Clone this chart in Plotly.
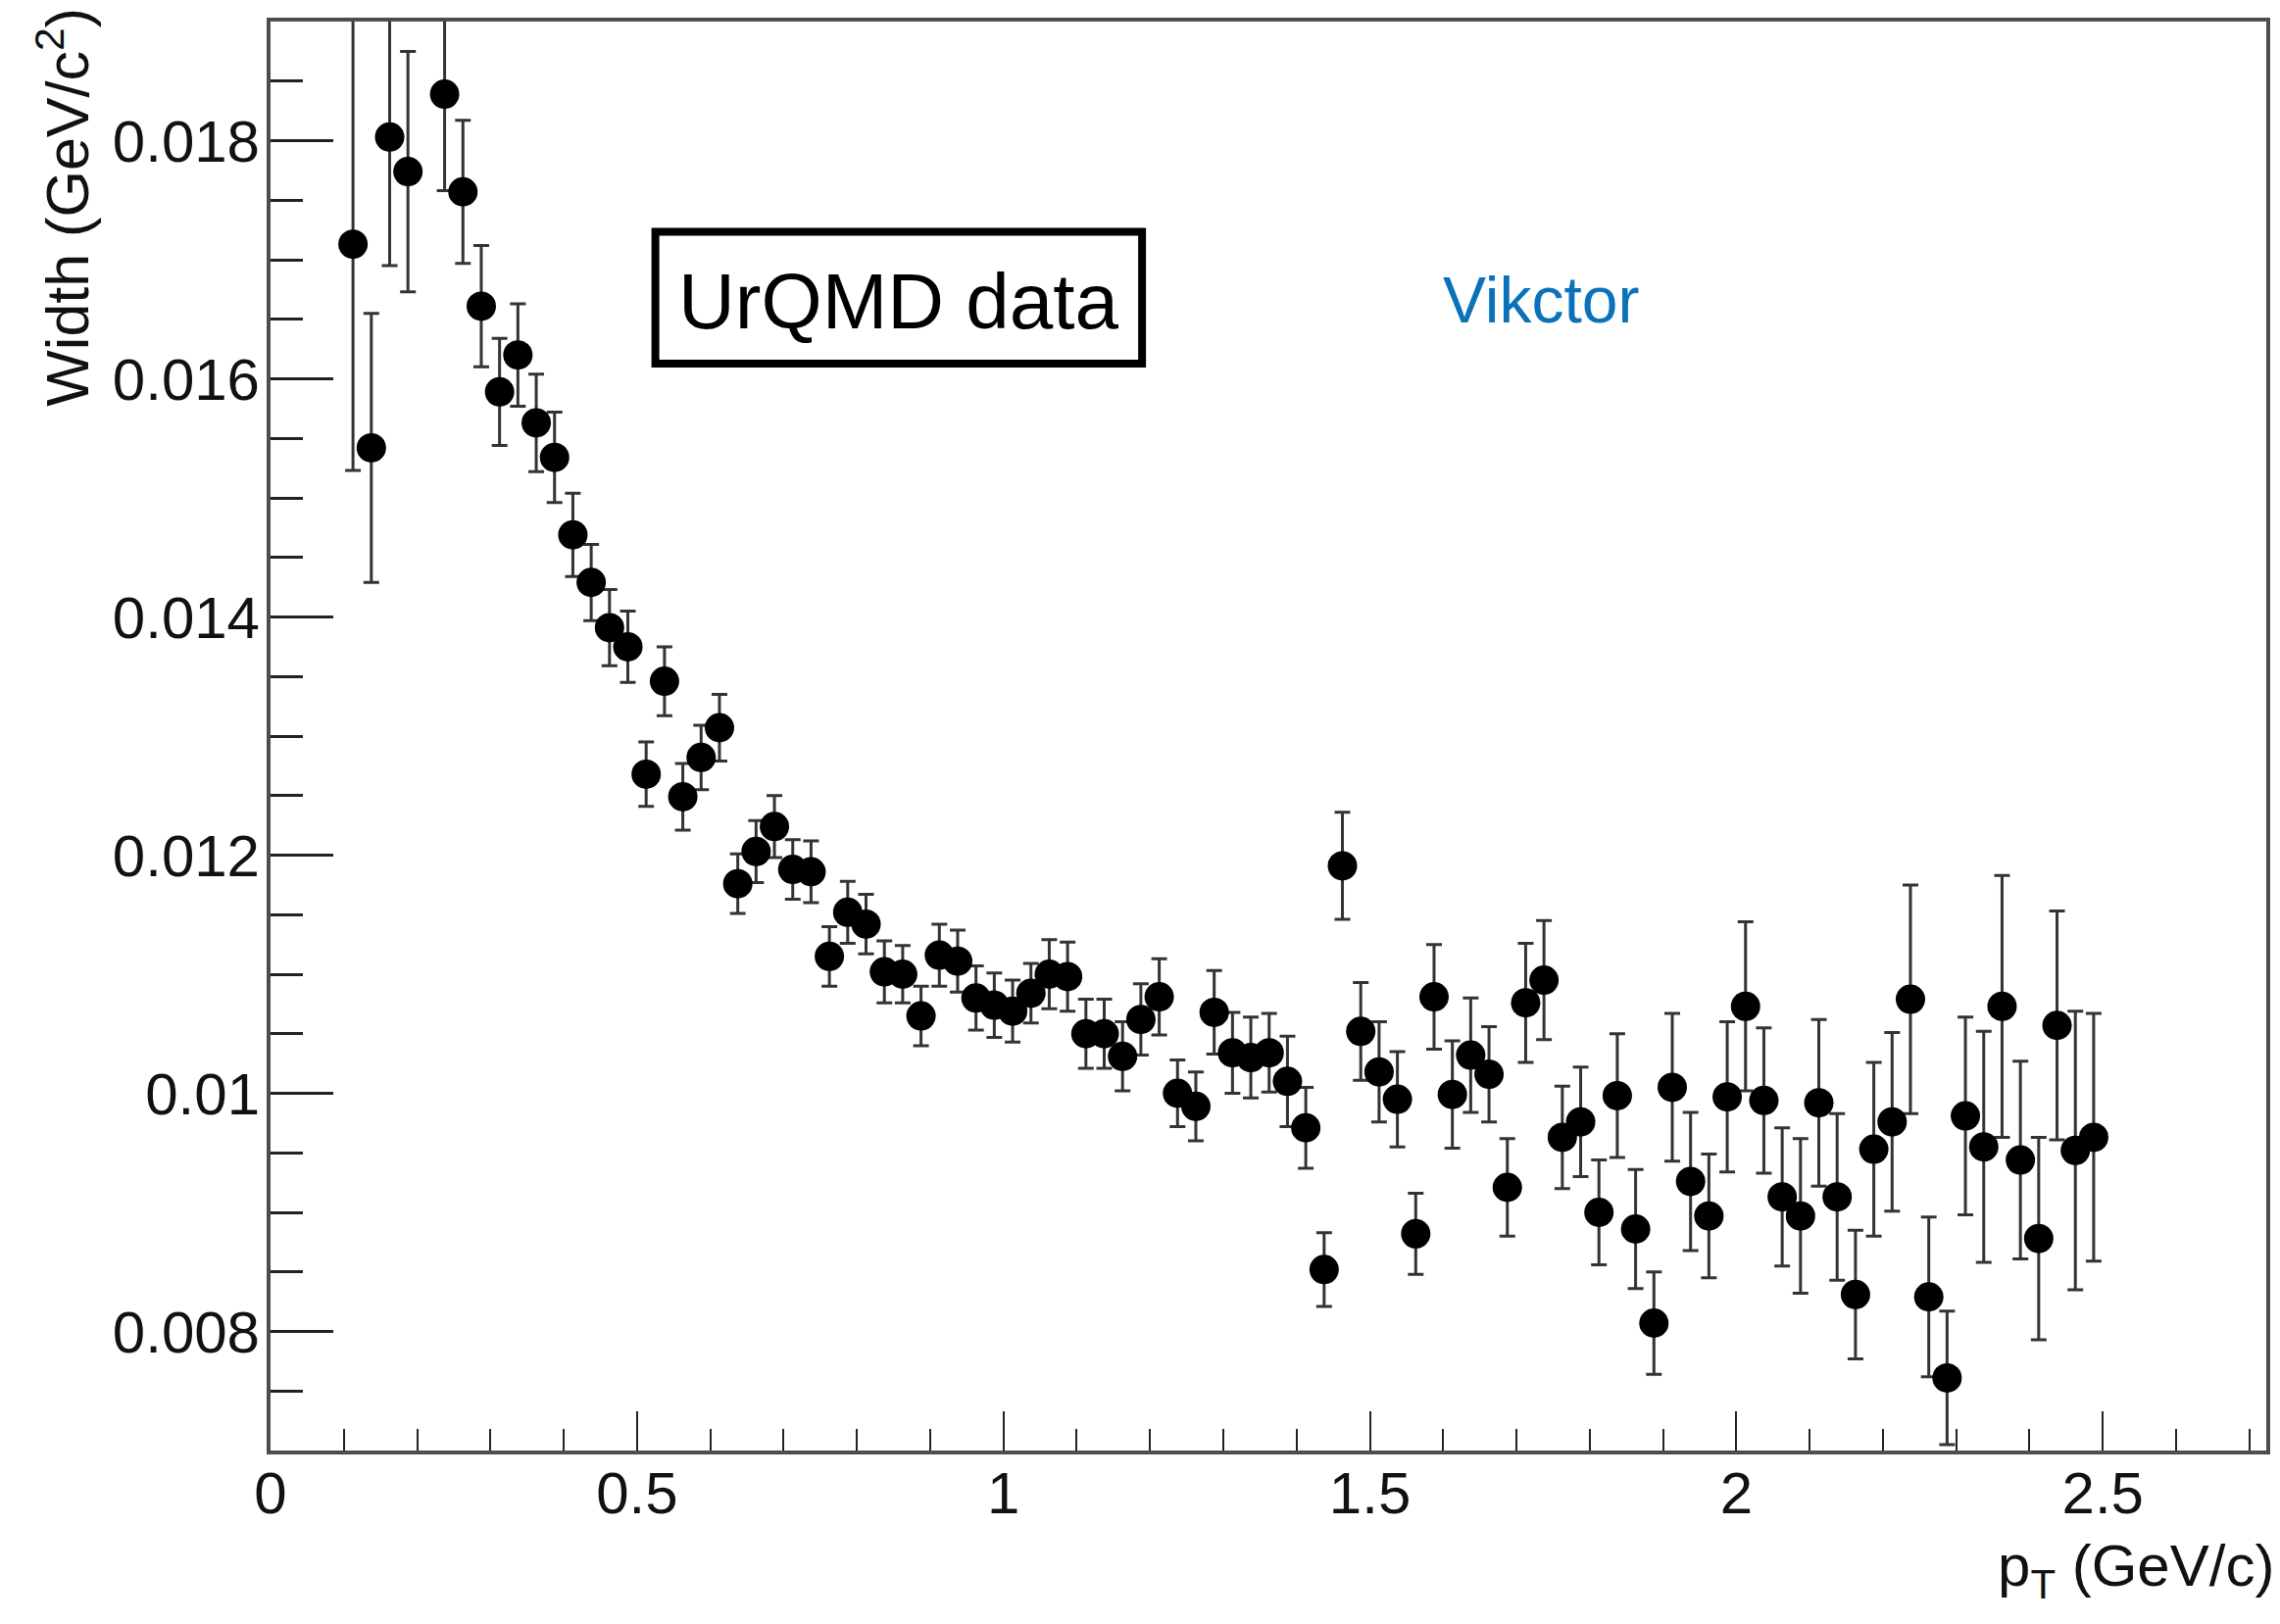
import plotly.graph_objects as go

# bin centres in pT (GeV/c); the 0.2125 bin has no point in the original
pt = [
    0.1125, 0.1375, 0.1625, 0.1875, 0.2375, 0.2625, 0.2875, 0.3125, 0.3375, 0.3625,
    0.3875, 0.4125, 0.4375, 0.4625, 0.4875,
    0.5125, 0.5375, 0.5625, 0.5875, 0.6125, 0.6375, 0.6625, 0.6875, 0.7125, 0.7375,
    0.7625, 0.7875, 0.8125, 0.8375, 0.8625, 0.8875, 0.9125, 0.9375, 0.9625, 0.9875,
    1.0125, 1.0375, 1.0625, 1.0875, 1.1125, 1.1375, 1.1625, 1.1875, 1.2125, 1.2375,
    1.2625, 1.2875, 1.3125, 1.3375, 1.3625, 1.3875, 1.4125, 1.4375, 1.4625, 1.4875,
    1.5125, 1.5375, 1.5625, 1.5875, 1.6125, 1.6375, 1.6625, 1.6875, 1.7125, 1.7375,
    1.7625, 1.7875, 1.8125, 1.8375, 1.8625, 1.8875, 1.9125, 1.9375, 1.9625, 1.9875,
    2.0125, 2.0375, 2.0625, 2.0875, 2.1125, 2.1375, 2.1625, 2.1875, 2.2125, 2.2375,
    2.2625, 2.2875, 2.3125, 2.3375, 2.3625, 2.3875, 2.4125, 2.4375, 2.4625, 2.4875,
]

width = [
    0.01713, 0.01542, 0.01803, 0.01774, 0.01839, 0.01757, 0.01661, 0.01589, 0.01620, 0.01563,
    0.01534, 0.01469, 0.01429, 0.01391, 0.01375,
    0.01268, 0.01346, 0.01249, 0.01282, 0.01307, 0.01176, 0.01203, 0.01224, 0.01188, 0.01186,
    0.01115, 0.01152, 0.01142, 0.01102, 0.01100, 0.01065, 0.01116, 0.01111, 0.01080, 0.01074,
    0.01069, 0.01084, 0.01100, 0.01098, 0.01050, 0.01050, 0.01031, 0.01062, 0.01081, 0.01000,
    0.00989, 0.01068, 0.01034, 0.01030, 0.01034, 0.01010, 0.00971, 0.00852, 0.01191, 0.01052,
    0.01018, 0.00995, 0.00882, 0.01081, 0.00999, 0.01032, 0.01016, 0.00921, 0.01076, 0.01095,
    0.00963, 0.00976, 0.00900, 0.00998, 0.00886, 0.00807, 0.01005, 0.00926, 0.00897, 0.00997,
    0.01073, 0.00994, 0.00913, 0.00897, 0.00992, 0.00913, 0.00831, 0.00953, 0.00976, 0.01079,
    0.00829, 0.00761, 0.00981, 0.00955, 0.01073, 0.00944, 0.00878, 0.01057, 0.00952, 0.00963,
]

width_err = [
    0.00190, 0.00113, 0.00108, 0.00101, 0.00081, 0.00060, 0.00051, 0.00045, 0.00043, 0.00041,
    0.00038, 0.00035, 0.00032, 0.00032, 0.00030,
    0.00027, 0.00029, 0.00028, 0.00027, 0.00028, 0.00025, 0.00026, 0.00026, 0.00025, 0.00026,
    0.00025, 0.00026, 0.00025, 0.00026, 0.00024, 0.00025, 0.00026, 0.00026, 0.00027, 0.00027,
    0.00026, 0.00025, 0.00029, 0.00029, 0.00029, 0.00029, 0.00029, 0.00030, 0.00032, 0.00028,
    0.00029, 0.00035, 0.00034, 0.00034, 0.00033, 0.00038, 0.00034, 0.00031, 0.00045, 0.00041,
    0.00042, 0.00040, 0.00034, 0.00044, 0.00045, 0.00048, 0.00040, 0.00041, 0.00050, 0.00050,
    0.00043, 0.00046, 0.00044, 0.00052, 0.00050, 0.00043, 0.00062, 0.00058, 0.00052, 0.00063,
    0.00071, 0.00061, 0.00058, 0.00065, 0.00070, 0.00070, 0.00054, 0.00073, 0.00075, 0.00096,
    0.00067, 0.00056, 0.00083, 0.00097, 0.00110, 0.00083, 0.00085, 0.00096, 0.00117, 0.00104,
]

y_tickvals = [0.008, 0.010, 0.012, 0.014, 0.016, 0.018]
y_ticktext = ["0.008", "0.01", "0.012", "0.014", "0.016", "0.018"]
x_tickvals = [0, 0.5, 1, 1.5, 2, 2.5]
x_ticktext = ["0", "0.5", "1", "1.5", "2", "2.5"]

# the page body adds an 8px margin, so the figure is made that much smaller
PAGE = 8
W, H = 2326 - PAGE, 1657 - PAGE
# plot frame in page pixels
L, R, T, B = 276, 2314, 18, 1480
FONT = "Liberation Sans, Arial, Helvetica, sans-serif"


def px(x):
    return (x - L) / (R - L)


def py(y):
    return (B - y) / (B - T)


fig = go.Figure()
fig.add_trace(go.Scatter(
    x=pt, y=width,
    mode="markers",
    marker=dict(symbol="circle", size=30, color="black"),
    error_y=dict(type="data", array=width_err, visible=True,
                 color="#333333", thickness=3, width=8),
    showlegend=False,
))

axis_common = dict(
    showgrid=False, zeroline=False,
    showline=True, linecolor="#4d4d4d", linewidth=4, mirror=True,
    ticks="inside", tickcolor="#222222",
    tickfont=dict(family=FONT, size=60, color="#111111"),
    tickmode="array",
)

fig.update_xaxes(
    range=[0, 2.723], tickvals=x_tickvals, ticktext=x_ticktext,
    ticklen=40, tickwidth=2, ticklabelstandoff=-12,
    minor=dict(ticks="inside", tick0=0, dtick=0.1, ticklen=22, tickwidth=2, tickcolor="#222222"),
    **axis_common,
)
fig.update_yaxes(
    range=[0.007, 0.019], tickvals=y_tickvals, ticktext=y_ticktext,
    ticklen=64, tickwidth=3, ticklabelstandoff=-5,
    minor=dict(ticks="inside", tick0=0, dtick=0.0005, ticklen=33, tickwidth=3, tickcolor="#222222"),
    **axis_common,
)

# ROOT-style box around the model label
fig.add_shape(type="rect", xref="paper", yref="paper",
              x0=px(669), x1=px(1166), y0=py(368), y1=py(233),
              line=dict(color="black", width=8), fillcolor="white", layer="below")

fig.add_annotation(text="UrQMD data", xref="paper", yref="paper",
                   x=px(917), y=py(304), xanchor="center", yanchor="middle",
                   showarrow=False, font=dict(family=FONT, size=80, color="black"))
fig.add_annotation(text="Vikctor", xref="paper", yref="paper",
                   x=px(1574), y=py(303), xanchor="center", yanchor="middle",
                   showarrow=False, font=dict(family=FONT, size=66, color="#0b72b9"))

# axis titles, aligned to the axis ends as ROOT does
fig.add_annotation(text="Width (GeV/c<sup>2</sup>)", xref="paper", yref="paper",
                   x=px(64), y=py(2), xanchor="center", yanchor="top", textangle=-90,
                   showarrow=False, font=dict(family=FONT, size=61, color="#111111"))
fig.add_annotation(text="p<sub>T</sub> (GeV/c)", xref="paper", yref="paper",
                   x=px(2324), y=py(1602), xanchor="right", yanchor="middle",
                   showarrow=False, font=dict(family=FONT, size=60, color="#111111"))

fig.update_layout(
    width=W, height=H,
    margin=dict(l=L - PAGE, r=W + PAGE - R, t=T - PAGE, b=H + PAGE - B),
    paper_bgcolor="white", plot_bgcolor="white",
)

fig.write_html("out.html")
